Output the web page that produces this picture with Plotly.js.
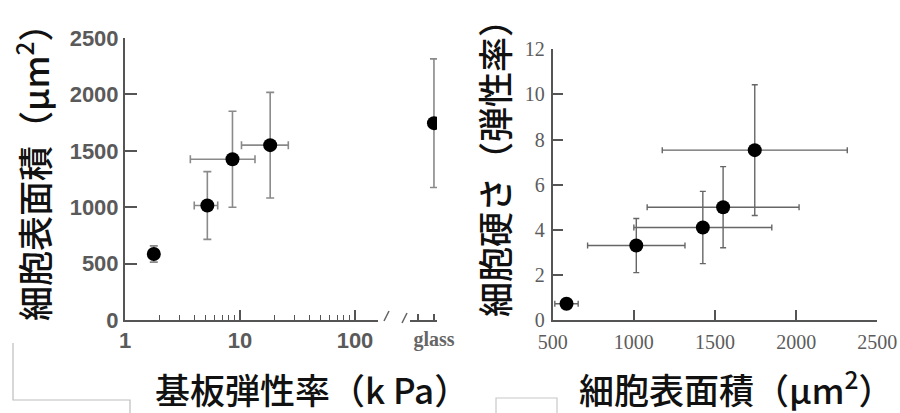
<!DOCTYPE html>
<html>
<head>
<meta charset="utf-8">
<script src="https://cdn.plot.ly/plotly-3.0.1.min.js"></script>
<style>html,body{margin:0;padding:0;background:#fff;}#chart{width:900px;height:413px;}</style>
</head>
<body>
<div id="chart"></div>
<script>
// ---- data ----
// Left: substrate elasticity (kPa) vs cell surface area (um^2)
const substrateKPa      = [1.78, 5.2, 8.6, 18.3];
const substrateKPaErr   = [0.12, 1.2, 4.9, 8.0];
const glassLabel        = ['glass'];
const glassCategories   = ['·', 'glass'];
const glassTickText     = ['', 'glass'];
// cell surface area for the 5 conditions (4 gels + glass)
const cellArea          = [585, 1015, 1425, 1550, 1745];
const cellAreaErr       = [72, 300, 425, 468, 570];
// Right: cell stiffness (elastic modulus) vs surface area
const cellStiffness     = [0.72, 3.3, 4.1, 5.0, 7.53];
const cellStiffnessErr  = [0.05, 1.2, 1.6, 1.8, 2.9];
const leftYTicks  = [0, 500, 1000, 1500, 2000, 2500];
const leftXTicks  = [1, 10, 100];
const leftXMinor  = [2,3,4,5,6,7,8,9,20,30,40,50,60,70,80,90];
const rightXTicks = [500, 1000, 1500, 2000, 2500];
const rightYTicks = [0, 2, 4, 6, 8, 10, 12];

// ---- helpers for pixel-based layout ----
const W = 900, H = 413;
const px = v => v / W;
const py = v => 1 - v / H;

const gelCount = substrateKPa.length;
const markerStyle = {color: '#000', size: 14};

const traces = [
  { // gels
    type: 'scatter', mode: 'markers', xaxis: 'x', yaxis: 'y',
    x: substrateKPa, y: cellArea.slice(0, gelCount),
    marker: markerStyle,
    error_y: {type: 'data', array: cellAreaErr.slice(0, gelCount), color: '#8a8a8a', thickness: 1.6, width: 4},
    error_x: {type: 'data', array: substrateKPaErr, color: '#8a8a8a', thickness: 1.6, width: 4},
    hoverinfo: 'skip'
  },
  { // glass
    type: 'scatter', mode: 'markers', xaxis: 'x2', yaxis: 'y',
    x: glassLabel, y: cellArea.slice(gelCount),
    marker: markerStyle,
    error_y: {type: 'data', array: cellAreaErr.slice(gelCount), color: '#8a8a8a', thickness: 1.6, width: 4},
    hoverinfo: 'skip'
  },
  { // right plot
    type: 'scatter', mode: 'markers', xaxis: 'x3', yaxis: 'y2',
    x: cellArea, y: cellStiffness,
    marker: markerStyle,
    error_x: {type: 'data', array: cellAreaErr, color: '#666', thickness: 1.4, width: 3},
    error_y: {type: 'data', array: cellStiffnessErr, color: '#666', thickness: 1.4, width: 3},
    hoverinfo: 'skip'
  }
];

const sansTick = {family: 'Liberation Sans, Arial, sans-serif', size: 22, color: '#5a5a5a', weight: 'bold'};
const serifTick = {family: 'Liberation Serif, Times New Roman, serif', size: 20, color: '#5c5c5c'};
const axisLine = {showline: true, linecolor: '#555', linewidth: 2, showgrid: false, zeroline: false, mirror: false};
const titleFont = {family: 'Noto Sans CJK JP, sans-serif', size: 35, color: '#111', weight: 500};

const layout = {
  width: W, height: H,
  margin: {l: 0, r: 0, t: 0, b: 0, pad: 0},
  paper_bgcolor: '#fff', plot_bgcolor: 'rgba(0,0,0,0)',
  showlegend: false,
  xaxis: Object.assign({}, axisLine, {
    type: 'log', domain: [px(125), px(378)], range: [0, 2.2], anchor: 'y',
    tickmode: 'array', tickvals: leftXTicks, ticks: 'inside', ticklen: 10, tickwidth: 1.5, tickcolor: '#555',
    tickfont: sansTick, tickangle: 0,
    minor: {tickmode: 'array', tickvals: leftXMinor, ticks: 'inside', ticklen: 5, tickwidth: 1.2, tickcolor: '#555'}
  }),
  xaxis2: Object.assign({}, axisLine, {
    type: 'category', domain: [px(410), px(437)], range: [-0.5, 1.19], anchor: 'y',
    categoryorder: 'array', categoryarray: glassCategories,
    tickmode: 'array', tickvals: glassCategories, ticktext: glassTickText, tickangle: 0,
    ticks: 'inside', ticklen: 6, tickwidth: 1.2, tickcolor: '#555',
    tickfont: {family: 'Liberation Serif, Times New Roman, serif', size: 20, color: '#666', weight: 'bold'}
  }),
  yaxis: Object.assign({}, axisLine, {
    domain: [py(320), py(38)], range: [0, 2500], anchor: 'x',
    tickmode: 'array', tickvals: leftYTicks, ticks: 'inside', ticklen: 12, tickwidth: 2, tickcolor: '#555',
    tickfont: sansTick
  }),
  xaxis3: Object.assign({}, axisLine, {
    domain: [px(552.7), px(877.3)], range: [500, 2500], anchor: 'y2',
    tickmode: 'array', tickvals: rightXTicks, ticks: 'inside', ticklen: 10, tickwidth: 2, tickcolor: '#555',
    tickfont: serifTick, tickangle: 0, ticklabelstandoff: 3
  }),
  yaxis2: Object.assign({}, axisLine, {
    domain: [py(320), py(49.3)], range: [0, 12], anchor: 'x3',
    tickmode: 'array', tickvals: rightYTicks, ticks: 'inside', ticklen: 10, tickwidth: 2, tickcolor: '#555',
    tickfont: serifTick, ticklabelstandoff: 2
  }),
  annotations: [
    {text: '細胞表面積（μm<sup>2</sup>）', xref: 'paper', yref: 'paper', x: px(33), y: py(164), textangle: -90,
     xanchor: 'center', yanchor: 'middle', showarrow: false, font: titleFont},
    {text: '基板弾性率（k Pa）', xref: 'paper', yref: 'paper', x: px(312), y: py(388),
     xanchor: 'center', yanchor: 'middle', showarrow: false, font: titleFont},
    {text: '細胞硬さ（弾性率）', xref: 'paper', yref: 'paper', x: px(493), y: py(160), textangle: -90,
     xanchor: 'center', yanchor: 'middle', showarrow: false, font: titleFont},
    {text: '細胞表面積（μm<sup>2</sup>）', xref: 'paper', yref: 'paper', x: px(736), y: py(387),
     xanchor: 'center', yanchor: 'middle', showarrow: false, font: titleFont}
  ],
  shapes: [
    // axis break marks
    {type: 'line', xref: 'paper', yref: 'paper', x0: px(384), y0: py(321), x1: px(389), y1: py(311), line: {color: '#666', width: 1.5}},
    {type: 'line', xref: 'paper', yref: 'paper', x0: px(402), y0: py(323), x1: px(407), y1: py(313), line: {color: '#666', width: 1.5}},
    // faint frame fragments
    {type: 'path', xref: 'paper', yref: 'paper',
     path: `M ${px(13)} ${py(343)} L ${px(13)} ${py(400)} L ${px(130)} ${py(400)} L ${px(130)} ${py(413)}`,
     line: {color: '#bdbdbd', width: 1.2}},
    {type: 'path', xref: 'paper', yref: 'paper',
     path: `M ${px(496)} ${py(413)} L ${px(496)} ${py(398)} L ${px(557)} ${py(398)} L ${px(557)} ${py(413)}`,
     line: {color: '#c8c8c8', width: 1.2}}
  ]
};

Plotly.newPlot('chart', traces, layout, {staticPlot: true, displayModeBar: false});
</script>
</body>
</html>
